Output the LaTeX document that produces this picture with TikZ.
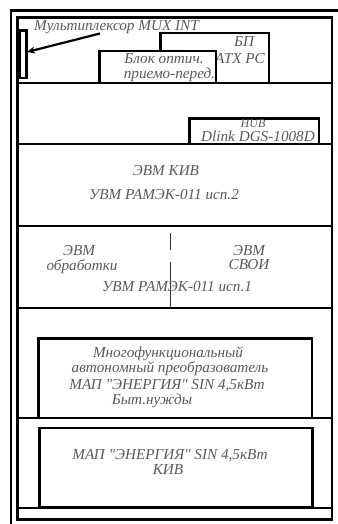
\documentclass[tikz,border=0pt]{standalone}
\usepackage{fontspec}
\setmainfont{Liberation Serif}
\usetikzlibrary{arrows.meta}
\definecolor{txt}{HTML}{5A5A5A}
\tikzset{
  frame/.style={line width=2.6pt, line join=miter},
  unit/.style={draw, line width=2.6pt, fill=white},
  lbl/.style={text=txt, font=\itshape\fontsize{15.2}{16}\selectfont, inner sep=0pt, align=center},
  divider/.style={line width=1.6pt, draw=black!80}
}
\begin{document}
\begin{tikzpicture}[x=1pt,y=-1pt]
\useasboundingbox (0,0) rectangle (337,524);
\fill[white] (0,0) rectangle (337,524);
% outer frame
\draw[frame] (11,540) -- (11,10.5) -- (350,10.5);
% inner frame
\draw[frame] (17.5,17.5) rectangle (332,519.5);
% shelves
\foreach \y in {83,144,226,308,418,508} \draw[frame] (17.5,\y) -- (332,\y);
% top compartment
\node[lbl, anchor=base west] (mux) at (34,30.5) {Мультиплексор MUX INT};
\draw[unit] (19.5,30.5) rectangle (26.5,78);
\coordinate (muxbox) at (27,52);
\coordinate (muxfrom) at (100,33.5);
\draw[line width=2.2pt, -{Stealth[length=8pt,width=7pt]}] (muxfrom) -- (muxbox);
\draw[unit] (160.5,33) rectangle (269,83);
\node[lbl, anchor=base] (bp) at (244,47) {БП};
\node[lbl, anchor=base] (atx) at (240,64) {ATX PC};
\draw[unit] (99.5,51) rectangle (216,83);
\node[lbl, anchor=base] (opt1) at (164,64) {Блок оптич.};
\node[lbl, anchor=base] (opt2) at (169.5,79) {приемо-перед.};
% hub
\draw[unit] (189.5,118.5) rectangle (319,144);
\begin{scope}
\clip (190.8,119.8) rectangle (317.7,142.7);
\node[lbl, anchor=base, font=\itshape\fontsize{12}{13}\selectfont] (hub) at (253,127) {HUB};
\node[lbl, anchor=base] (dlink) at (258,141.5) {Dlink DGS-1008D};
\end{scope}
% KIV computer
\node[lbl, anchor=base] (kiv) at (166,175.5) {ЭВМ КИВ};
\node[lbl, anchor=base] (kiv2) at (164,199.5) {УВМ РАМЭК-011 исп.2};
% processing computer
\coordinate (d1) at (170.5,233);
\coordinate (d2) at (170.5,250);
\coordinate (d3) at (170.5,262);
\coordinate (d4) at (170.5,308);
\draw[divider] (d1) -- (d2);
\draw[divider] (d3) -- (d4);
\node[lbl, anchor=base] (obr1) at (79,255) {ЭВМ};
\node[lbl, anchor=base] (obr2) at (82,270) {обработки};
\node[lbl, anchor=base] (svoi1) at (249,255) {ЭВМ};
\node[lbl, anchor=base] (svoi2) at (249,269.5) {СВОИ};
\node[lbl, anchor=base] (uvm1) at (177,291.5) {УВМ РАМЭК-011 исп.1};
% inverter 1
\draw[unit] (38.5,338.5) rectangle (312,418);
\node[lbl, anchor=base] (m1) at (168,357) {Многофункциональный};
\node[lbl, anchor=base] (m2) at (170,372.5) {автономный преобразователь};
\node[lbl, anchor=base] (m3) at (167,389) {МАП \textquotedbl ЭНЕРГИЯ\textquotedbl{} SIN 4,5кВт};
\node[lbl, anchor=base] (m4) at (152,404) {Быт.нужды};
% inverter 2
\draw[unit] (39.5,428) rectangle (312.5,507.5);
\node[lbl, anchor=base] (k1) at (170,459.5) {МАП \textquotedbl ЭНЕРГИЯ\textquotedbl{} SIN 4,5кВт};
\node[lbl, anchor=base] (k2) at (168,474.5) {КИВ};
\end{tikzpicture}
\end{document}
